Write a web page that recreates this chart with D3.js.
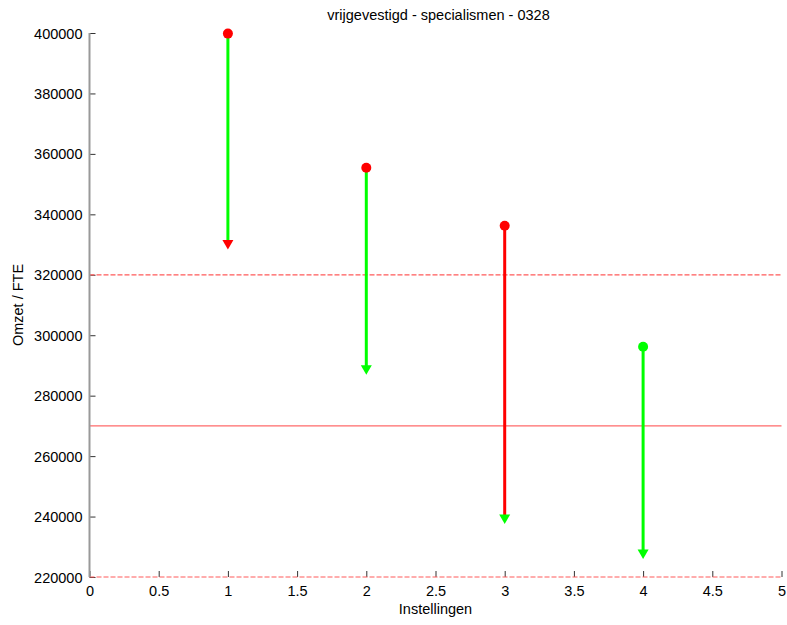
<!DOCTYPE html>
<html>
<head>
<meta charset="utf-8">
<script src="https://cdn.jsdelivr.net/npm/d3@7"></script>
<style>
html,body{margin:0;padding:0;background:#fff;}
text{font-family:"Liberation Sans",Arial,sans-serif;fill:#000;}
</style>
</head>
<body>
<svg id="chart" width="787" height="625"></svg>
<script>
// Data
const instellingen = [1, 2, 3, 4];
const startValues = [399800, 355400, 336200, 296200];
const endValues = [330000, 288600, 239200, 227600];
const startColors = ["#ff0000", "#ff0000", "#ff0000", "#00ff00"];
const lineColors = ["#00ff00", "#00ff00", "#ff0000", "#00ff00"];
const endColors = ["#ff0000", "#00ff00", "#00ff00", "#00ff00"];
const refDashed = [320000, 220000];
const refSolid = [270000];
const xTicks = [0, 0.5, 1, 1.5, 2, 2.5, 3, 3.5, 4, 4.5, 5];
const yTicks = [220000, 240000, 260000, 280000, 300000, 320000, 340000, 360000, 380000, 400000];
const title = "vrijgevestigd - specialismen - 0328";
const xLabel = "Instellingen";
const yLabel = "Omzet / FTE";

const svg = d3.select("#chart");
const L = 89.5, R = 781.5, T = 33, B = 577;
const x = d3.scaleLinear().domain([0, 5]).range([L, R]);
const y = d3.scaleLinear().domain([220000, 400000]).range([B, T]);

// Axes
const yAxis = d3.axisRight(y).tickValues(yTicks).tickSize(6).tickFormat(d3.format("d"));
const gy = svg.append("g").attr("transform", `translate(${L},0)`).call(yAxis);
gy.select(".domain").remove();
gy.selectAll(".tick line").attr("stroke", "#333");
gy.selectAll(".tick text").attr("x", -7).attr("text-anchor", "end")
  .style("font-size", "14.5px").attr("dy", "0.35em");

const xAxis = d3.axisTop(x).tickValues(xTicks).tickSize(6).tickFormat(d => d3.format("~g")(d));
const gx = svg.append("g").attr("transform", `translate(0,${B})`).call(xAxis);
gx.select(".domain").remove();
gx.selectAll(".tick line").attr("stroke", "#333");
gx.selectAll(".tick text").attr("y", 9).attr("dy", "0.71em").attr("text-anchor", "middle")
  .style("font-size", "14.5px");

// Reference lines
svg.selectAll("line.refd").data(refDashed).enter().append("line")
  .attr("class", "refd")
  .attr("x1", x(0)).attr("x2", x(5))
  .attr("y1", d => y(d)).attr("y2", d => y(d))
  .attr("stroke", "#ff5a5a").attr("stroke-width", 1.2).attr("stroke-dasharray", "5,2");
svg.selectAll("line.refs").data(refSolid).enter().append("line")
  .attr("class", "refs")
  .attr("x1", x(0)).attr("x2", x(5))
  .attr("y1", d => y(d)).attr("y2", d => y(d))
  .attr("stroke", "#ff6a6a").attr("stroke-width", 1.4);

// left axis line
svg.append("line").attr("x1", L).attr("x2", L).attr("y1", T).attr("y2", B)
  .attr("stroke", "#999").attr("stroke-width", 2);

// Stems
const idx = d3.range(instellingen.length);
svg.selectAll("line.stem").data(idx).enter().append("line")
  .attr("class", "stem")
  .attr("x1", i => x(instellingen[i])).attr("x2", i => x(instellingen[i]))
  .attr("y1", i => y(startValues[i])).attr("y2", i => y(endValues[i]))
  .attr("stroke", i => lineColors[i]).attr("stroke-width", 3);

// Arrowheads (triangle markers centered at end value)
svg.selectAll("path.head").data(idx).enter().append("path")
  .attr("class", "head")
  .attr("d", i => {
    const cx = x(instellingen[i]), cy = y(endValues[i]);
    return `M${cx - 5.5},${cy - 4.5}L${cx + 5.5},${cy - 4.5}L${cx},${cy + 5}Z`;
  })
  .attr("fill", i => endColors[i]);

// Start markers
svg.selectAll("circle.dot").data(idx).enter().append("circle")
  .attr("class", "dot")
  .attr("cx", i => x(instellingen[i])).attr("cy", i => y(startValues[i]))
  .attr("r", 5).attr("fill", i => startColors[i]);

// Title & labels
svg.append("text").attr("x", (L + R) / 2 + 3).attr("y", 20).attr("text-anchor", "middle")
  .style("font-size", "14.5px").text(title);
svg.append("text").attr("x", (L + R) / 2).attr("y", 614).attr("text-anchor", "middle")
  .style("font-size", "14.5px").text(xLabel);
svg.append("text").attr("transform", `translate(23,${(T + B) / 2}) rotate(-90)`)
  .attr("text-anchor", "middle").style("font-size", "14.5px").text(yLabel);
</script>
</body>
</html>
